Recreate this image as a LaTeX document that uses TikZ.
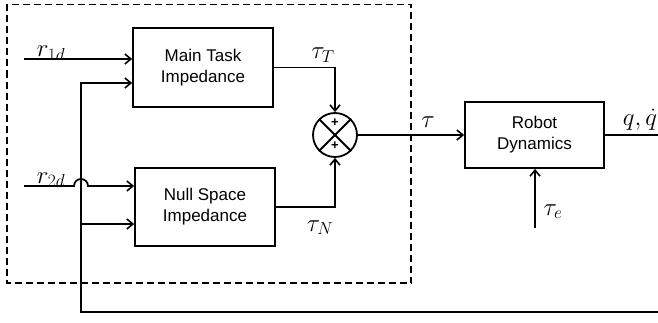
\documentclass[tikz,border=0pt]{standalone}
\usepackage{fontspec}
\newfontfamily\boxfont{Liberation Sans}
\usetikzlibrary{arrows.meta}
\begin{document}
\begin{tikzpicture}[x=1pt,y=1pt,
  line width=1.8pt,
  blk/.style={draw, line width=1.8pt, minimum width=140pt, minimum height=79pt, align=center,
    font=\boxfont\fontsize{17}{21}\selectfont, inner sep=0pt},
  arr/.style={-{Straight Barb[length=6pt,width=10pt,line width=1.6pt]}},
  lbl/.style={font=\fontsize{24}{28}\selectfont, inner sep=0pt, anchor=base},
  plus/.style={font=\boxfont\bfseries\fontsize{13}{13}\selectfont, inner sep=0pt}
]
\useasboundingbox (0,0) rectangle (658,322);
\draw[dash pattern=on 7pt off 4pt, line width=1.8pt] (7,317.5) rectangle (411,39);
\node[blk] (main) at (203,254.5) {Main Task\\Impedance};
\node[blk, minimum height=78pt] (null) at (205,115) {Null Space\\Impedance};
\node[blk, minimum width=139pt, minimum height=66pt] (robot) at (534.5,187) {Robot\\Dynamics};
\node[circle, draw, minimum size=44pt, inner sep=0pt] (sum) at (335,187) {};
\draw (sum.north west) -- (sum.south east);
\draw (sum.north east) -- (sum.south west);
\node[plus] (p1) at ([yshift=12pt]sum.center) {+};
\node[plus] (p2) at ([yshift=-11pt]sum.center) {+};

\coordinate (r1) at (24,263);
\coordinate (r2) at (24,136);
\coordinate (hop) at (81,136);
\coordinate (fbR) at (658,10);
\coordinate (fbL) at (81,10);
\coordinate (fbM) at (81,239);
\coordinate (fbN) at (81,98);
\coordinate (te) at (535,94);
\coordinate (qout) at (658,187);

\draw[arr] (r1) -- (r1 -| main.west);
\draw[arr] (fbR) -- (fbL) -- (fbM) -- (fbM -| main.west);
\draw[arr] (fbN) -- (fbN -| null.west);
\draw[arr] (r2) -- ([xshift=-7pt]hop) arc[start angle=180,end angle=0,radius=7pt] -- (hop -| null.west);
\draw[arr] (main.east) -| (sum.north);
\draw[arr] (null.east) -| (sum.south);
\draw[arr] (sum.east) -- (robot.west);
\draw[arr] (te) -- (te |- robot.south);
\draw (robot.east) -- (qout);

\node[lbl] (lr1) at (51,265.5) {$r_{1d}$};
\node[lbl] (lr2) at (51,139) {$r_{2d}$};
\node[lbl] (ltT) at (323,263) {$\tau_T$};
\node[lbl] (ltN) at (320,91) {$\tau_N$};
\node[lbl] (lt) at (428,195) {$\tau$};
\node[lbl] (lq) at (640,196.5) {$q,\dot q$};
\node[lbl] (lte) at (553,107) {$\tau_e$};
\end{tikzpicture}
\end{document}
